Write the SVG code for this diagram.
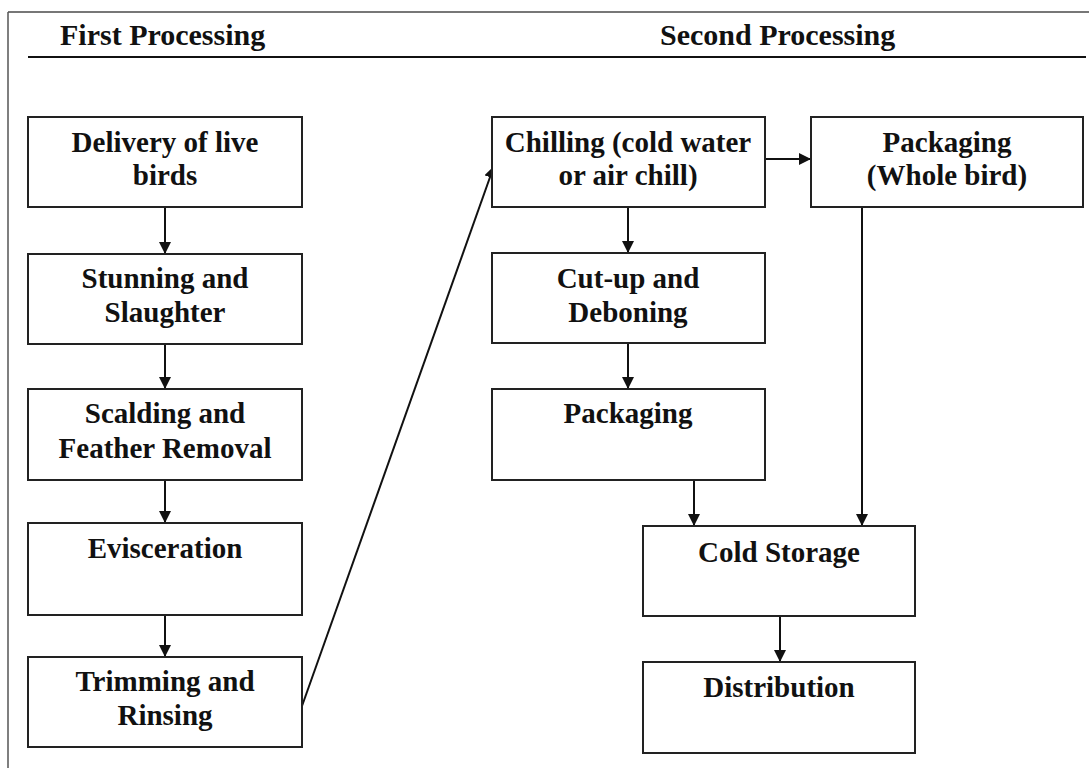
<svg xmlns="http://www.w3.org/2000/svg" width="1089" height="768" viewBox="0 0 1089 768">
<defs>
<style>
.box{fill:#fff;stroke:#222;stroke-width:2}
.t{font-family:"Liberation Serif","Times New Roman",serif;font-weight:bold;font-size:29px;fill:#111;text-anchor:middle}
.h{font-family:"Liberation Serif","Times New Roman",serif;font-weight:bold;font-size:30px;fill:#111}
.c{stroke:#111;stroke-width:2;fill:none;marker-end:url(#ah)}
</style>
<marker id="ah" viewBox="0 0 12 12" refX="12" refY="6" markerWidth="12" markerHeight="12" markerUnits="userSpaceOnUse" orient="auto">
<path d="M0,0 L12,6 L0,12 Z" fill="#111"/>
</marker>
</defs>
<rect width="1089" height="768" fill="#fff"/>
<g id="frame">
<line x1="8" y1="12" x2="1089" y2="12" stroke="#777" stroke-width="2"/>
<line x1="8" y1="12" x2="8" y2="768" stroke="#555" stroke-width="1.5"/>
<line x1="28" y1="57" x2="1086" y2="57" stroke="#111" stroke-width="2"/>
<text class="h" x="60" y="45">First Processing</text>
<text class="h" x="660" y="45">Second Processing</text>
</g>
<g id="connectors">
<line class="c" x1="165" y1="207" x2="165" y2="254"/>
<line class="c" x1="165" y1="344" x2="165" y2="389"/>
<line class="c" x1="165" y1="480" x2="165" y2="523"/>
<line class="c" x1="165" y1="615" x2="165" y2="657"/>
<line class="c" x1="302" y1="706" x2="494" y2="166"/>
<line class="c" x1="628" y1="207" x2="628" y2="253"/>
<line class="c" x1="628" y1="343" x2="628" y2="389"/>
<line class="c" x1="765" y1="159" x2="811" y2="159"/>
<line class="c" x1="694" y1="480" x2="694" y2="526"/>
<line class="c" x1="862" y1="207" x2="862" y2="526"/>
<line class="c" x1="780" y1="616" x2="780" y2="662"/>
</g>
<g id="delivery">
<rect class="box" x="28" y="117" width="274" height="90"/>
<text class="t" x="165" y="152">Delivery of live</text>
<text class="t" x="165" y="185">birds</text>
</g>
<g id="stunning">
<rect class="box" x="28" y="254" width="274" height="90"/>
<text class="t" x="165" y="288">Stunning and</text>
<text class="t" x="165" y="322">Slaughter</text>
</g>
<g id="scalding">
<rect class="box" x="28" y="389" width="274" height="91"/>
<text class="t" x="165" y="423">Scalding and</text>
<text class="t" x="165" y="458">Feather Removal</text>
</g>
<g id="evisceration">
<rect class="box" x="28" y="523" width="274" height="92"/>
<text class="t" x="165" y="558">Evisceration</text>
</g>
<g id="trimming">
<rect class="box" x="28" y="657" width="274" height="90"/>
<text class="t" x="165" y="691">Trimming and</text>
<text class="t" x="165" y="725">Rinsing</text>
</g>
<g id="chilling">
<rect class="box" x="492" y="117" width="273" height="90"/>
<text class="t" x="628" y="152">Chilling (cold water</text>
<text class="t" x="628" y="185">or air chill)</text>
</g>
<g id="packaging-whole">
<rect class="box" x="811" y="117" width="272" height="90"/>
<text class="t" x="947" y="152">Packaging</text>
<text class="t" x="947" y="185">(Whole bird)</text>
</g>
<g id="cutup">
<rect class="box" x="492" y="253" width="273" height="90"/>
<text class="t" x="628" y="288">Cut-up and</text>
<text class="t" x="628" y="322">Deboning</text>
</g>
<g id="packaging">
<rect class="box" x="492" y="389" width="273" height="91"/>
<text class="t" x="628" y="423">Packaging</text>
</g>
<g id="cold-storage">
<rect class="box" x="643" y="526" width="272" height="90"/>
<text class="t" x="779" y="562">Cold Storage</text>
</g>
<g id="distribution">
<rect class="box" x="643" y="662" width="272" height="91"/>
<text class="t" x="779" y="697">Distribution</text>
</g>
</svg>
